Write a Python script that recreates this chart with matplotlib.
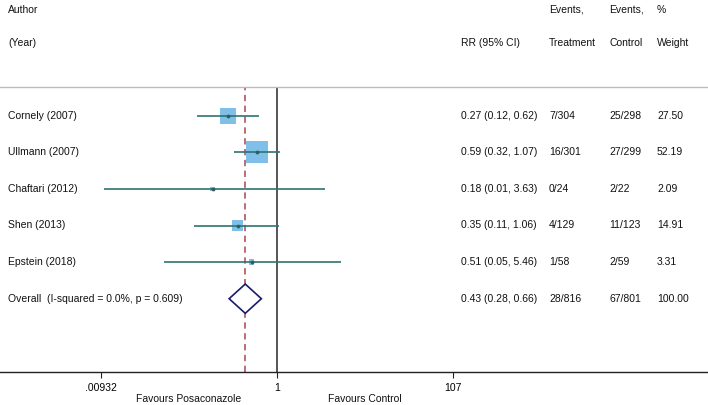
import matplotlib
matplotlib.use("Agg")
import matplotlib.pyplot as plt
import matplotlib.transforms as mtransforms
import numpy as np

plt.rcParams['font.family'] = ['Liberation Sans', 'DejaVu Sans']

studies = ["Cornely (2007)", "Ullmann (2007)", "Chaftari (2012)", "Shen (2013)", "Epstein (2018)"]
rr = [0.27, 0.59, 0.18, 0.35, 0.51]
lo = [0.12, 0.32, 0.01, 0.11, 0.05]
hi = [0.62, 1.07, 3.63, 1.06, 5.46]
treat = ["7/304", "16/301", "0/24", "4/129", "1/58"]
control = ["25/298", "27/299", "2/22", "11/123", "2/59"]
weight = [27.50, 52.19, 2.09, 14.91, 3.31]

overall_label = "Overall  (I-squared = 0.0%, p = 0.609)"
overall_rr, overall_lo, overall_hi = 0.43, 0.28, 0.66
overall_treat, overall_control, overall_weight = "28/816", "67/801", "100.00"

xticks = [0.00932, 1, 107]
xticklabels = [".00932", "1", "107"]

W, H = 708, 405
fig = plt.figure(figsize=(W / 100, H / 100), dpi=100)

ppd = 86.6  # pixels per decade
x1px = 277.0
xmin = 10 ** (-x1px / ppd)
xmax = 10 ** ((W - x1px) / ppd)

ax_bottom_px, ax_top_px = 372.0, 87.0
ax = fig.add_axes([0, 1 - ax_bottom_px / H, 1, (ax_bottom_px - ax_top_px) / H])
ax.set_xscale('log')
ax.set_xlim(xmin, xmax)
row0_px, row_sp = 115.7, 36.6
ax.set_ylim((ax_bottom_px - row0_px) / row_sp, -(row0_px - ax_top_px) / row_sp)

for s in ['left', 'right']:
    ax.spines[s].set_visible(False)
ax.spines['top'].set_color('#bdbdbd')
ax.spines['top'].set_linewidth(1.0)
ax.spines['bottom'].set_color('#222222')
ax.spines['bottom'].set_linewidth(1.0)
ax.set_yticks([])
ax.set_xticks(xticks)
ax.set_xticklabels(xticklabels)
ax.minorticks_off()
ax.tick_params(axis='x', direction='out', length=4, width=0.8, labelsize=7.5, pad=4, color='#222222')

ax.axvline(1, color='#555555', lw=1.4, zorder=1)
ax.axvline(overall_rr, color='#b8606c', lw=1.3, ls=(0, (3.5, 2.5)), zorder=1)

ys = np.arange(len(studies))
maxw = max(weight)
sides_px = [22 * np.sqrt(w / maxw) for w in weight]
sizes = [(s * 0.72) ** 2 for s in sides_px]
ax.scatter(rr, ys, s=sizes, marker='s', color='#80bfea', edgecolors='none', zorder=2)
ax.hlines(ys, lo, hi, color='#2f7470', lw=1.2, zorder=3)
ax.scatter(rr, ys, s=3, marker='o', color='#2f5f5c', zorder=4)

yo = len(studies)
h = 0.4
ax.fill([overall_lo, overall_rr, overall_hi, overall_rr], [yo, yo - h, yo, yo + h],
        facecolor='white', edgecolor='#1b1b6b', lw=1.2, zorder=3)

fs = 7.5
def ft(xpx, ypx, s, ha='left'):
    fig.text(xpx / W, 1 - ypx / H, s, ha=ha, va='center', fontsize=fs, color='#111111')

ft(8, 10, "Author")
ft(8, 43, "(Year)")
ft(461, 43, "RR (95% CI)")
ft(549, 10, "Events,")
ft(549, 43, "Treatment")
ft(609, 10, "Events,")
ft(609, 43, "Control")
ft(657, 10, "%")
ft(657, 43, "Weight")

rows_px = [row0_px + i * row_sp for i in range(len(studies) + 1)]
for i, name in enumerate(studies):
    y = rows_px[i]
    ft(8, y, name)
    ft(461, y, f"{rr[i]:.2f} ({lo[i]:.2f}, {hi[i]:.2f})")
    ft(549, y, treat[i])
    ft(609, y, control[i])
    ft(657, y, f"{weight[i]:.2f}")
y = rows_px[-1]
ft(8, y, overall_label)
ft(461, y, f"{overall_rr:.2f} ({overall_lo:.2f}, {overall_hi:.2f})")
ft(549, y, overall_treat)
ft(609, y, overall_control)
ft(657, y, overall_weight)

trans = mtransforms.blended_transform_factory(ax.transData, fig.transFigure)
ax.text(np.sqrt(xticks[0] * xticks[1]), 1 - 399 / H, "Favours Posaconazole", transform=trans,
        ha='center', va='center', fontsize=fs, color='#111111')
ax.text(np.sqrt(xticks[1] * xticks[2]), 1 - 399 / H, "Favours Control", transform=trans,
        ha='center', va='center', fontsize=fs, color='#111111')

fig.savefig("out.png", dpi=100)
